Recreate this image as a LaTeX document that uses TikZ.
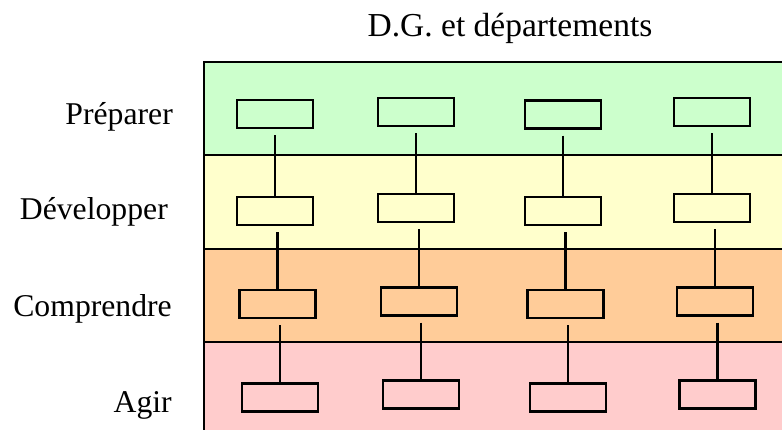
\documentclass[tikz,border=0pt]{standalone}
\usepackage{fontspec}
\setmainfont{Liberation Serif}
\definecolor{bandgreen}{HTML}{CCFFCC}
\definecolor{bandyellow}{HTML}{FFFFCC}
\definecolor{bandorange}{HTML}{FFCC99}
\definecolor{bandpink}{HTML}{FFCCCC}
\tikzset{
  unitbox/.style={draw=black, line width=2.5pt, minimum width=76pt, minimum height=28pt, inner sep=0pt},
  link/.style={draw=black, line width=2.5pt},
  band/.style={draw=black, line width=2.5pt},
  lbl/.style={font=\fontsize{31.7}{36}\selectfont, inner sep=0pt, anchor=base east},
}
\begin{document}
\begin{tikzpicture}[x=1pt,y=-1pt]
\useasboundingbox (0,0) rectangle (782,430);
% bands
\fill[bandgreen]  (204,62)  rectangle (790,155);
\fill[bandyellow] (204,155) rectangle (790,249);
\fill[bandorange] (204,249) rectangle (790,342);
\fill[bandpink]   (204,342) rectangle (790,440);
\draw[band] (790,62) -- (204,62) -- (204,440);
\draw[band] (204,155) -- (790,155);
\draw[band] (204,249) -- (790,249);
\draw[band] (204,342) -- (790,342);
% title and labels
\node[font=\fontsize{33.5}{38}\selectfont, inner sep=0pt, anchor=base] (title) at (510,37) {D.G. et départements};
\node[lbl] (lp) at (173,125) {Préparer};
\node[lbl] (ld) at (168,220) {Développer};
\node[lbl] (lc) at (172,317) {Comprendre};
\node[lbl] (la) at (172,412) {Agir};
% boxes
\node[unitbox] (g1) at (275,114) {};
\node[unitbox] (g2) at (416,112) {};
\node[unitbox] (g3) at (563,114.5) {};
\node[unitbox] (g4) at (712,112) {};
\node[unitbox] (y1) at (275,211) {};
\node[unitbox] (y2) at (416,208) {};
\node[unitbox] (y3) at (563,211) {};
\node[unitbox] (y4) at (712,208) {};
\node[unitbox] (o1) at (277.5,304) {};
\node[unitbox] (o2) at (419,301.5) {};
\node[unitbox] (o3) at (565.5,304) {};
\node[unitbox] (o4) at (715,301.5) {};
\node[unitbox] (p1) at (280,397.5) {};
\node[unitbox] (p2) at (421,394.5) {};
\node[unitbox] (p3) at (568,397.5) {};
\node[unitbox] (p4) at (717.5,394.5) {};
% connectors
\foreach \a/\b in {g1/y1,g2/y2,g3/y3,g4/y4,y1/o1,y2/o2,y3/o3,y4/o4,o1/p1,o2/p2,o3/p3,o4/p4}{
  \draw[link] ([yshift=-6pt]\b.north |- \a.south) -- (\b.north);
}
\end{tikzpicture}
\end{document}
